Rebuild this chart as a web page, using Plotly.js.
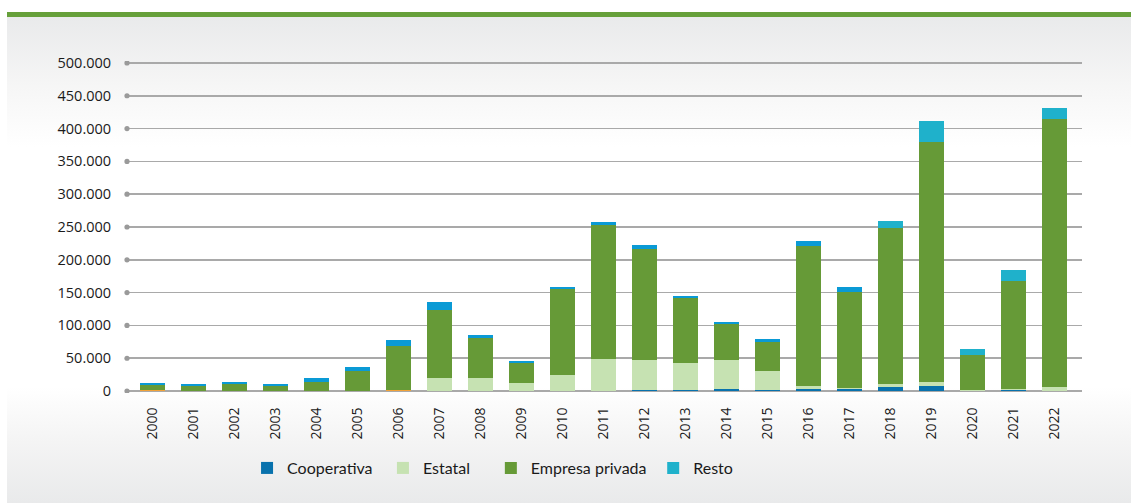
<!DOCTYPE html>
<html>
<head>
<meta charset="utf-8">
<script src="https://cdn.plot.ly/plotly-3.0.1.min.js"></script>
<style>
html,body{margin:0;padding:0;background:#ffffff;}
#wrap{position:absolute;left:0;top:0;width:1131px;height:503px;background:#ffffff;}
#panel{position:absolute;left:7px;top:12px;width:1124px;height:491px;
  border-top:5px solid #66a03a;box-sizing:border-box;
  background:linear-gradient(to bottom,#e9eaeb 0px,#f6f6f6 70px,#ffffff 130px,#ffffff 370px,#f5f5f5 420px,#e8e9ea 491px);}
#chart{position:absolute;left:0;top:0;width:1131px;height:503px;}
</style>
</head>
<body>
<div id="wrap"><div id="panel"></div><div id="chart"></div></div>
<script>
const years = ['2000','2001','2002','2003','2004','2005','2006','2007','2008','2009','2010','2011','2012','2013','2014','2015','2016','2017','2018','2019','2020','2021','2022'];
const otros       = [1500,0,0,0,0,0,1500,0,0,0,0,0,0,0,0,0,0,0,0,0,0,0,0];
const cooperativa = [0,0,0,0,0,0,0,0,0,0,0,0,2000,1500,3000,1500,2600,2600,6000,7600,0,1500,0];
const estatal     = [0,0,0,0,0,0,0,20000,20000,13000,24500,49000,45000,41000,44000,29000,4600,2000,4600,5700,1500,1500,6000];
const privada     = [7000,7200,10700,7200,13500,30000,67000,104000,60500,30000,131500,204500,169000,99500,55000,44000,214400,147000,237300,365700,53000,164000,408000];
const resto       = [3500,3500,3000,3500,7000,6000,10000,11700,4500,2700,2500,4000,6000,2600,3000,4600,6600,6500,10700,32000,9200,17000,18000];
const yTicks = [0,50000,100000,150000,200000,250000,300000,350000,400000,450000,500000];
const yTickText = ['0','50.000','100.000','150.000','200.000','250.000','300.000','350.000','400.000','450.000','500.000'];

const restoColors = years.map(y => (+y >= 2018 ? '#1fb1cb' : '#0a9ad5'));

const traces = [
  {name:'Otros', x:years, y:otros, type:'bar', marker:{color:'#f2a33a'}, showlegend:false, hoverinfo:'skip'},
  {name:'Cooperativa', x:years, y:cooperativa, type:'bar', marker:{color:'#0872ad'}, legend:'legend'},
  {name:'Estatal', x:years, y:estatal, type:'bar', marker:{color:'#c6e2b2'}, legend:'legend2'},
  {name:'Empresa privada', x:years, y:privada, type:'bar', marker:{color:'#669a37'}, legend:'legend3'},
  {name:'Resto', x:years, y:resto, type:'bar', marker:{color:restoColors}, showlegend:false},
  {name:'Resto', x:[years[0]], y:[0], type:'bar', marker:{color:'#1fb1cb', line:{width:0}}, legend:'legend4', showlegend:true, hoverinfo:'skip'}
];

const shapes = yTicks.map(v => ({
  type:'circle', xref:'paper', yref:'y', xsizemode:'pixel', ysizemode:'pixel',
  xanchor:0, yanchor:v, x0:-2.6, x1:2.6, y0:-2.6, y1:2.6,
  fillcolor:'#9a9a9a', line:{width:0}
}));

const legFont = {family:'Lato, "Open Sans", sans-serif', size:16, color:'#1a1a1a'};
function leg(x){ return {orientation:'h', x:x, xanchor:'left', y:-0.226, yanchor:'middle',
  font:legFont, itemwidth:30, bgcolor:'rgba(0,0,0,0)'}; }

const layout = {
  width:1131, height:503,
  margin:{l:127, r:49, t:61, b:110},
  paper_bgcolor:'rgba(0,0,0,0)', plot_bgcolor:'rgba(0,0,0,0)',
  barmode:'stack', bargap:0.39,
  font:{family:'"Open Sans", "Noto Sans", sans-serif', size:14, color:'#1a1a1a'},
  xaxis:{type:'category', categoryorder:'array', categoryarray:years, range:[-0.63,22.68], tickangle:-90, showgrid:false, zeroline:false,
    showline:false, ticks:'outside', ticklen:8, tickcolor:'rgba(0,0,0,0)',
    tickfont:{size:14, color:'#1a1a1a'}},
  yaxis:{range:[-3000,503000], tickvals:yTicks, ticktext:yTickText, showgrid:true,
    gridcolor:'#a9a9a9', gridwidth:1.6, zeroline:true, zerolinecolor:'#a9a9a9', zerolinewidth:1.8,
    showline:false, ticks:'outside', ticklen:12, tickcolor:'rgba(0,0,0,0)',
    tickfont:{size:14.5, color:'#1a1a1a'}},
  shapes:shapes,
  legend:leg(0.1257), legend2:leg(0.268), legend3:leg(0.381), legend4:leg(0.551),
  showlegend:true
};

Plotly.newPlot('chart', traces, layout, {displayModeBar:false, staticPlot:true});
</script>
</body>
</html>
